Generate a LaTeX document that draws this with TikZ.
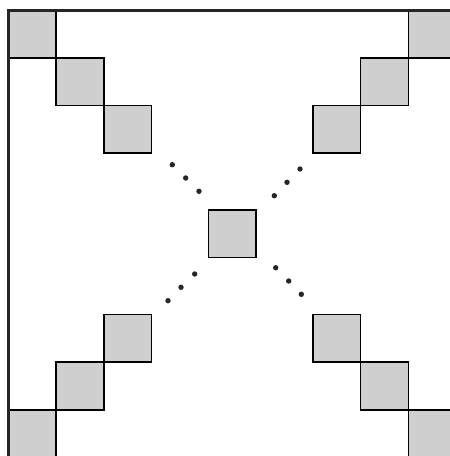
\documentclass[tikz,border=0pt]{standalone}
\usetikzlibrary{calc}
\begin{document}
\begin{tikzpicture}[x=1pt,y=-1pt,
    blk/.style={draw,fill=gray!38,minimum size=47.7pt,inner sep=0pt,line width=1.6pt},
    dot/.style={circle,fill=black!85,inner sep=0pt,minimum size=5.4pt}]
\clip (0,0) rectangle (450,456);
\coordinate (nw) at (8.5,10);
\coordinate (se) at (456,457.5);
        \foreach \i in {0,1,2}{
\node[blk] (tl\i) at ($(8.5,10)+(23.85,23.85)+(\i*47.7,\i*47.7)$) {};
\node[blk] (tr\i) at ($(456,10)+(-23.85,23.85)+(-\i*47.7,\i*47.7)$) {};
\node[blk] (bl\i) at ($(8.5,457.5)+(23.85,-23.85)+(\i*47.7,-\i*47.7)$) {};
\node[blk] (br\i) at ($(456,457.5)+(-23.85,-23.85)+(-\i*47.7,-\i*47.7)$) {};
}
\node[blk] (mid) at ($(nw)!0.5!(se)$) {};
\draw[black!85,line width=3pt,line join=miter] (se|-nw) -- (nw) -- (nw|-se);
        \foreach \x/\y [count=\k] in {172.3/164.7,185.7/178,199/191.3,
            300/169,287/182.3,274.3/195.7,
            194.7/274,181/287.3,168/300.7,
            275.7/267.7,288.7/281,301.3/294.3}{
\node[dot] (d\k) at (\x,\y) {};
}
    \end{tikzpicture}
\end{document}
